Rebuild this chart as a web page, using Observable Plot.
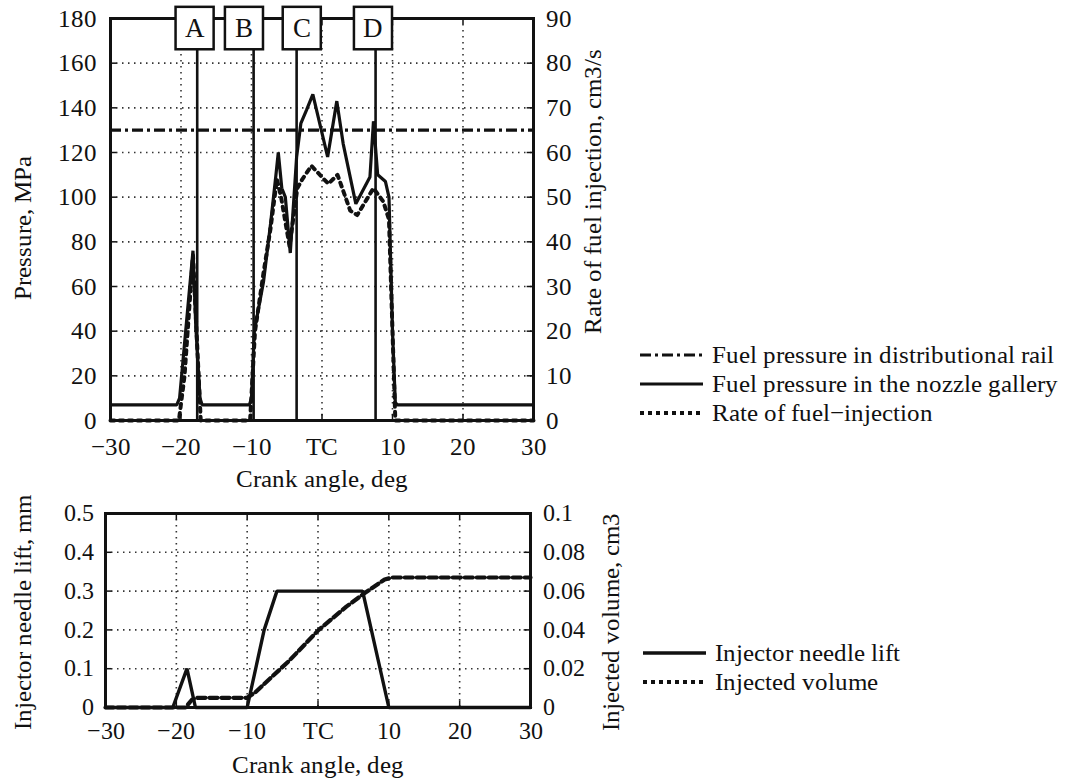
<!DOCTYPE html>
<html><head><meta charset="utf-8">
<script src="https://cdn.jsdelivr.net/npm/d3@7"></script>
<script src="https://cdn.jsdelivr.net/npm/@observablehq/plot@0.6"></script>
<style>
@font-face{font-family:"RefSerif";src:local("Liberation Serif"),local("LiberationSerif"),local("LiberationSerif-Regular"),local("DejaVu Serif"),local("DejaVuSerif"),local("Times New Roman"),local("Nimbus Roman"),local("FreeSerif");}
body{margin:0;background:#fff;}
#wrap{position:relative;width:1086px;height:778px;font-family:"RefSerif","Liberation Serif","Times New Roman",Times,"Nimbus Roman","DejaVu Serif",serif;color:#111;overflow:hidden;}
.plot{position:absolute;left:0;}
.plot text{font-family:"RefSerif","Liberation Serif","Times New Roman",Times,"Nimbus Roman","DejaVu Serif",serif;}
.legend{position:absolute;font-size:25px;line-height:29px;}
.legend .row{display:flex;align-items:center;height:29px;white-space:nowrap;}
.legend svg{margin-right:9px;}
</style></head><body><div id="wrap"></div>
<script>
// ---------- data ----------
const angleTicks = [-30, -20, -10, 0, 10, 20, 30];
const angleTickLabels = ["−30", "−20", "−10", "TC", "10", "20", "30"];
const pressureTicks = [0, 20, 40, 60, 80, 100, 120, 140, 160, 180];
const rateTicks = [0, 10, 20, 30, 40, 50, 60, 70, 80, 90];
const railPressure = 130;

const galleryAngle = [-30, -20.6, -20.2, -18.3, -17.9, -17.3, -17.0, -10.3, -10.0, -9.6, -8.3, -7.3, -6.6, -6.2, -5.7, -5.2, -4.5, -3.6, -3.0, -2.2, -1.3, 0.8, 2.1, 3.0, 4.8, 6.8, 7.3, 7.9, 9.0, 9.5, 10.0, 10.4, 10.7, 30];
const galleryPressure = [7, 7, 10, 76, 42, 10, 7, 7, 10, 40, 62, 88, 108, 120, 104, 100, 75, 118, 133, 139, 146, 118, 143, 124, 97, 109, 134, 110, 107, 100, 40, 8, 7, 7];

const rateAngle = [-30, -20.3, -19.5, -18.3, -17.8, -17.2, -10.2, -9.5, -8.3, -7.3, -6.4, -5.8, -4.6, -3.5, -2.8, -1.5, 0.9, 2.2, 4.0, 5.0, 7.3, 8.7, 9.5, 10.0, 10.4, 30];
const rateValue = [0, 0, 10, 37, 20, 0, 0, 20, 33, 43, 54, 50, 39, 52, 54, 57, 53, 55, 47, 46, 52, 49, 45, 20, 0, 0];

const markerLabels = ["A", "B", "C", "D"];
const markerAngle = [-17.7, -9.7, -3.6, 7.6];
const markerBoxAngle = [-18.0, -11.0, -2.8, 7.3];

const liftTicks = [0, 0.1, 0.2, 0.3, 0.4, 0.5];
const liftTickLabels = ["0", "0.1", "0.2", "0.3", "0.4", "0.5"];
const volumeTickLabels = ["0", "0.02", "0.04", "0.06", "0.08", "0.1"];

const liftAngle = [-30, -20.5, -18.5, -17.3, -10.0, -7.6, -5.8, 6.3, 10.0, 30];
const liftValue = [0, 0, 0.1, 0, 0, 0.2, 0.3, 0.3, 0, 0];

const volumeAngle = [-30, -18.7, -17.8, -17.0, -10.0, -8.8, -4.1, 0.1, 4.0, 6.6, 9.4, 10.5, 30];
const volumeValue = [0, 0, 0.004, 0.005, 0.005, 0.008, 0.024, 0.040, 0.052, 0.059, 0.066, 0.067, 0.067];

const topLegend = ["Fuel pressure in distributional rail", "Fuel pressure in the nozzle gallery", "Rate of fuel−injection"];
const bottomLegend = ["Injector needle lift", "Injected volume"];

// ---------- build ----------
const ink = "#111";
const font = '"RefSerif","Liberation Serif","Times New Roman",Times,"DejaVu Serif",serif';
const angleLabel = new Map(angleTicks.map((d, i) => [d, angleTickLabels[i]]));
const rateFactor = pressureTicks[pressureTicks.length - 1] / rateTicks[rateTicks.length - 1];
const gallery = galleryAngle.map((a, i) => ({angle: a, p: galleryPressure[i]}));
const rate = rateAngle.map((a, i) => ({angle: a, r: rateValue[i]}));
const markers = markerLabels.map((l, i) => ({label: l, angle: markerAngle[i], box: markerBoxAngle[i]}));
const lift = liftAngle.map((a, i) => ({angle: a, v: liftValue[i]}));
const volume = volumeAngle.map((a, i) => ({angle: a, v: volumeValue[i]}));
const volFactor = liftTicks[liftTicks.length - 1] / 0.1;
const liftLabel = new Map(liftTicks.map((d, i) => [d, liftTickLabels[i]]));
const volLabel = new Map(liftTicks.map((d, i) => [d, volumeTickLabels[i]]));

const gridStyle = {stroke: ink, strokeOpacity: 0.85, strokeWidth: 1.6, strokeDasharray: "1.5,4.5"};
const inner = angleTicks.slice(1, -1);
const title = {textAnchor: "middle", lineAnchor: "middle", fontSize: 25, fill: ink, text: d => d};

function inwardTicks(xd, yd, xt, yt, xlen, ylen) {
  return [
    Plot.ruleY(yt, {x1: xd[0], x2: xd[0] + xlen, stroke: ink, strokeWidth: 1.5}),
    Plot.ruleY(yt, {x1: xd[1] - xlen, x2: xd[1], stroke: ink, strokeWidth: 1.5}),
    Plot.ruleX(xt, {y1: yd[0], y2: yd[0] + ylen, stroke: ink, strokeWidth: 1.5}),
    Plot.ruleX(xt, {y1: yd[1] - ylen, y2: yd[1], stroke: ink, strokeWidth: 1.5})
  ];
}

const topPlot = Plot.plot({
  width: 620, height: 490,
  marginLeft: 110, marginRight: 87, marginTop: 18, marginBottom: 70,
  style: {fontFamily: font, fontSize: "24px", color: ink, background: "transparent", overflow: "visible"},
  x: {domain: [-30, 30]},
  y: {domain: [0, 180]},
  marks: [
    Plot.gridX(inner, gridStyle),
    Plot.gridY(pressureTicks.slice(1, -1), gridStyle),
    ...inwardTicks([-30, 30], [0, 180], inner, pressureTicks.slice(1, -1), 0.9, 2.8),
    Plot.ruleY([railPressure], {stroke: ink, strokeWidth: 3.2, strokeDasharray: "11,4,3,4"}),
    Plot.line(rate, {x: "angle", y: d => d.r * rateFactor, stroke: ink, strokeWidth: 4, strokeDasharray: "4,5"}),
    Plot.line(gallery, {x: "angle", y: "p", stroke: ink, strokeWidth: 3.2, strokeLinejoin: "miter"}),
    Plot.ruleX(markers, {x: "angle", y1: 0, y2: 166, stroke: ink, strokeWidth: 2.6}),
    Plot.frame({stroke: ink, strokeWidth: 3}),
    Plot.rect(markers, {x1: d => d.box - 2.7, x2: d => d.box + 2.7, y1: 166, y2: 185, fill: "white", stroke: ink, strokeWidth: 2.5}),
    Plot.text(markers, {x: "box", y: 175.5, text: "label", fontSize: 27, fill: ink}),
    Plot.axisX(angleTicks, {anchor: "bottom", tickSize: 0, tickPadding: 17, tickFormat: d => angleLabel.get(d), label: null, fontSize: 25}),
    Plot.axisY(pressureTicks, {anchor: "left", tickSize: 0, tickPadding: 14, label: null, fontSize: 25}),
    Plot.axisY(pressureTicks, {anchor: "right", tickSize: 0, tickPadding: 12, tickFormat: d => String(d / rateFactor), label: null, fontSize: 25}),
    Plot.text(["Pressure, MPa"], {...title, frameAnchor: "left", dx: -88, dy: 8, rotate: -90}),
    Plot.text(["Rate of fuel injection, cm3/s"], {...title, frameAnchor: "right", dx: 59, dy: -28, rotate: -90}),
    Plot.text(["Crank angle, deg"], {...title, frameAnchor: "bottom", dy: 58})
  ]
});

const botPlot = Plot.plot({
  width: 640, height: 288,
  marginLeft: 105, marginRight: 110, marginTop: 23, marginBottom: 71,
  style: {fontFamily: font, fontSize: "24px", color: ink, background: "transparent", overflow: "visible"},
  x: {domain: [-30, 30]},
  y: {domain: [0, 0.5]},
  marks: [
    Plot.gridX(inner, gridStyle),
    Plot.gridY(liftTicks.slice(1, -1), gridStyle),
    ...inwardTicks([-30, 30], [0, 0.5], inner, liftTicks.slice(1, -1), 0.9, 0.017),
    Plot.line(volume, {x: "angle", y: d => d.v * volFactor, stroke: ink, strokeWidth: 4.2, strokeDasharray: "8,4"}),
    Plot.line(lift, {x: "angle", y: "v", stroke: ink, strokeWidth: 3.4, strokeLinejoin: "miter"}),
    Plot.frame({stroke: ink, strokeWidth: 3}),
    Plot.axisX(angleTicks, {anchor: "bottom", tickSize: 0, tickPadding: 14, tickFormat: d => angleLabel.get(d), label: null, fontSize: 24}),
    Plot.axisY(liftTicks, {anchor: "left", tickSize: 0, tickPadding: 12, tickFormat: d => liftLabel.get(d), label: null, fontSize: 24}),
    Plot.axisY(liftTicks, {anchor: "right", tickSize: 0, tickPadding: 12, tickFormat: d => volLabel.get(d), label: null, fontSize: 24}),
    Plot.text(["Injector needle lift, mm"], {...title, frameAnchor: "left", dx: -83, dy: 2, rotate: -90}),
    Plot.text(["Injected volume, cm3"], {...title, frameAnchor: "right", dx: 80, dy: 11, rotate: -90}),
    Plot.text(["Crank angle, deg"], {...title, frameAnchor: "bottom", dy: 57})
  ]
});

const wrap = document.getElementById("wrap");
topPlot.classList.add("plot"); topPlot.style.top = "0px";
botPlot.classList.add("plot"); botPlot.style.top = "490px";
wrap.appendChild(topPlot);
wrap.appendChild(botPlot);

function legend(items, dashes, widths, left, top) {
  const div = document.createElement("div");
  div.className = "legend";
  div.style.left = left + "px";
  div.style.top = top + "px";
  items.forEach((t, i) => {
    const row = document.createElement("div");
    row.className = "row";
    const svg = d3.create("svg").attr("width", 63).attr("height", 10);
    svg.append("line").attr("x1", 0).attr("x2", 63).attr("y1", 5).attr("y2", 5)
      .attr("stroke", ink).attr("stroke-width", widths[i]).attr("stroke-dasharray", dashes[i]);
    row.appendChild(svg.node());
    const span = document.createElement("span");
    span.textContent = t;
    row.appendChild(span);
    div.appendChild(row);
  });
  wrap.appendChild(div);
}
legend(topLegend, ["11,4,3,4", null, "4,4"], [3.2, 3.2, 4], 640, 340);
legend(bottomLegend, [null, "4,4"], [3.4, 4], 643, 638);
</script></body></html>
